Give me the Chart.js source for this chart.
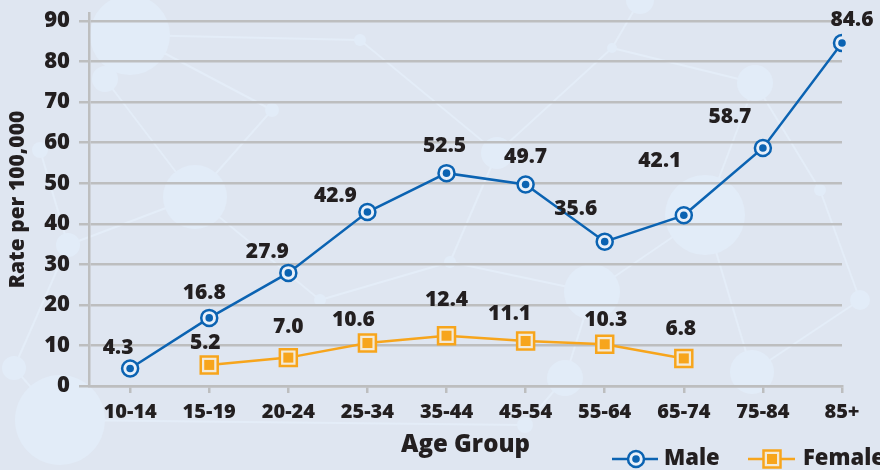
<!DOCTYPE html>
<html>
<head>
<meta charset="utf-8">
<script src="https://cdn.jsdelivr.net/npm/chart.js@4"></script>
<style>
html,body{margin:0;padding:0;background:#dfe6f1;}
#wrap{width:880px;height:470px;position:relative;}
</style>
</head>
<body>
<div id="wrap"><canvas id="c" width="880" height="470"></canvas></div>
<script>
// ---- data ----
const categories = ['10-14','15-19','20-24','25-34','35-44','45-54','55-64','65-74','75-84','85+'];
const maleValues = [4.3, 16.8, 27.9, 42.9, 52.5, 49.7, 35.6, 42.1, 58.7, 84.6];
const femaleValues = [null, 5.2, 7.0, 10.6, 12.4, 11.1, 10.3, 6.8, null, null];
const yTicks = [0, 10, 20, 30, 40, 50, 60, 70, 80, 90];

// ---- style ----
const BLUE = '#0b63b2';
const ORANGE = '#f7a51c';
const TEXT = '#231f20';
const GRID = '#bdbebf';
const FONT = "'Open Sans', sans-serif";
const W = 800;
// label offsets (dx, dy) relative to point, pixels
const maleLabelOffsets = [[-12,-21],[-5,-25],[-21,-21],[-32,-16],[-2,-27],[0,-27],[-29,-33],[-24,-54],[-33,-31],[10,-23]];
const femaleLabelOffsets = [null,[-4,-22],[0,-31],[-14,-23],[0,-36],[-16,-27],[1,-24],[-3,-29],null,null];

const bgDecor = {
  id: 'bgDecor',
  beforeDraw(chart) {
    const ctx = chart.ctx;
    ctx.save();
    ctx.fillStyle = '#dfe6f1';
    ctx.fillRect(0, 0, chart.width, chart.height);
    const nodes = [[130,35,40],[105,79,13],[272,110,7],[195,197,32],[68,245,12],[14,368,12],[60,420,45],
      [497,153,16],[612,48,5],[640,0,14],[755,83,18],[705,215,40],[592,292,28],[565,378,18],[752,372,22],
      [525,425,8],[450,262,6],[320,300,6],[860,300,10],[40,150,8],[360,40,6],[820,190,6]];
    const links = [[0,1],[1,3],[0,2],[2,3],[3,4],[4,5],[5,6],[4,19],[0,20],[20,7],[7,8],[8,9],[8,10],[10,11],[11,12],
      [12,13],[13,15],[11,14],[14,18],[12,16],[16,7],[16,17],[17,3],[10,21],[21,18],[15,6]];
    ctx.strokeStyle = '#e4edf8';
    ctx.lineWidth = 2;
    links.forEach(([a,b]) => {
      ctx.beginPath(); ctx.moveTo(nodes[a][0], nodes[a][1]); ctx.lineTo(nodes[b][0], nodes[b][1]); ctx.stroke();
    });
    ctx.fillStyle = '#e2ecf8';
    nodes.forEach(([x,y,r]) => { ctx.beginPath(); ctx.arc(x,y,r,0,Math.PI*2); ctx.fill(); });
    ctx.restore();
  }
};

const markerInner = {
  id: 'markerInner',
  afterDatasetsDraw(chart) {
    const ctx = chart.ctx;
    ctx.save();
    chart.data.datasets.forEach((ds, di) => {
      const meta = chart.getDatasetMeta(di);
      meta.data.forEach((pt, i) => {
        if (ds.data[i] == null || ds.data[i].y == null) return;
        ctx.fillStyle = ds.borderColor;
        if (ds.pointStyle === 'circle') {
          ctx.beginPath(); ctx.arc(pt.x, pt.y, 3.8, 0, Math.PI*2); ctx.fill();
        } else {
          ctx.fillRect(pt.x - 5, pt.y - 5, 10, 10);
        }
      });
    });
    ctx.restore();
  }
};

const dataLabels = {
  id: 'dataLabels',
  afterDatasetsDraw(chart) {
    const ctx = chart.ctx;
    ctx.save();
    ctx.font = W + ' 21px ' + FONT;
    ctx.fillStyle = TEXT;
    ctx.textAlign = 'center';
    ctx.textBaseline = 'middle';
    chart.data.datasets.forEach((ds, di) => {
      const meta = chart.getDatasetMeta(di);
      const offs = ds.labelOffsets;
      meta.data.forEach((pt, i) => {
        const v = ds.data[i] && ds.data[i].y;
        if (v == null) return;
        const o = offs[i] || [0,-24];
        ctx.fillText(v.toFixed(1), pt.x + o[0], pt.y + o[1]);
      });
    });
    ctx.restore();
  }
};

const legendDraw = {
  id: 'legendDraw',
  afterDraw(chart) {
    const ctx = chart.ctx;
    ctx.save();
    const y = 459;
    // Male
    ctx.strokeStyle = BLUE; ctx.lineWidth = 2.5;
    ctx.beginPath(); ctx.moveTo(612, y); ctx.lineTo(658, y); ctx.stroke();
    ctx.fillStyle = '#e8f0fa';
    ctx.beginPath(); ctx.arc(636, y, 8, 0, Math.PI*2); ctx.fill(); ctx.stroke();
    ctx.fillStyle = BLUE;
    ctx.beginPath(); ctx.arc(636, y, 3.8, 0, Math.PI*2); ctx.fill();
    // Female
    ctx.strokeStyle = ORANGE;
    ctx.beginPath(); ctx.moveTo(748, y); ctx.lineTo(795, y); ctx.stroke();
    ctx.fillStyle = '#f3ead8';
    ctx.fillRect(763.5, y - 8.5, 17, 17);
    ctx.strokeRect(763.5, y - 8.5, 17, 17);
    ctx.fillStyle = ORANGE;
    ctx.fillRect(767, y - 5, 10, 10);
    ctx.font = W + ' 22px ' + FONT;
    ctx.fillStyle = TEXT;
    ctx.textAlign = 'left';
    ctx.textBaseline = 'middle';
    ctx.fillText('Male', 664, y);
    ctx.fillText('Female', 803, y);
    ctx.restore();
  }
};

const toPts = arr => arr.map((v, i) => ({x: i, y: v}));

new Chart(document.getElementById('c'), {
  type: 'line',
  data: {
    datasets: [
      {
        label: 'Male', data: toPts(maleValues), borderColor: BLUE, borderWidth: 2.5,
        pointStyle: 'circle', pointRadius: 8, pointBorderWidth: 2.5,
        pointBackgroundColor: '#e8f0fa', pointBorderColor: BLUE,
        labelOffsets: maleLabelOffsets, spanGaps: false
      },
      {
        label: 'Female', data: toPts(femaleValues), borderColor: ORANGE, borderWidth: 2.5,
        pointStyle: 'rect', pointRadius: 12, pointBorderWidth: 2.5,
        pointBackgroundColor: '#f3ead8', pointBorderColor: ORANGE,
        labelOffsets: femaleLabelOffsets, spanGaps: false
      }
    ]
  },
  options: {
    responsive: false,
    animation: false,
    layout: { autoPadding: false, padding: { left: 0, right: 38, top: 13, bottom: 0 } },
    plugins: { legend: { display: false }, tooltip: { enabled: false } },
    scales: {
      x: {
        type: 'linear', min: -0.52, max: 9,
        afterBuildTicks: s => { s.ticks = categories.map((c, i) => ({value: i})); },
        afterFit: s => { s.height = 84; s.paddingLeft = 0; },
        ticks: {
          callback: v => categories[v],
          font: { family: FONT, size: 20, weight: W }, color: TEXT, padding: 7,
          maxRotation: 0, autoSkip: false
        },
        grid: { drawOnChartArea: false, drawTicks: true, tickLength: 7, color: GRID, lineWidth: 2.5 },
        border: { color: GRID, width: 2.5 },
        title: { display: true, text: 'Age Group', font: { family: FONT, size: 24, weight: W }, color: TEXT, padding: { top: 0, bottom: 10 } }
      },
      y: {
        min: 0, max: 92,
        afterBuildTicks: s => { s.ticks = yTicks.map(v => ({value: v})); },
        afterFit: s => { s.width = 89; s.paddingTop = 0; s.paddingBottom = 0; },
        ticks: { font: { family: FONT, size: 22, weight: W }, color: TEXT, padding: 9 },
        grid: { color: GRID, lineWidth: 2.5, tickLength: 10 },
        border: { color: GRID, width: 2.5 },
        title: { display: true, text: 'Rate per 100,000', font: { family: FONT, size: 21, weight: W }, color: TEXT, padding: { top: 5, bottom: 0 } }
      }
    }
  },
  plugins: [bgDecor, markerInner, dataLabels, legendDraw]
});
</script>
</body>
</html>
